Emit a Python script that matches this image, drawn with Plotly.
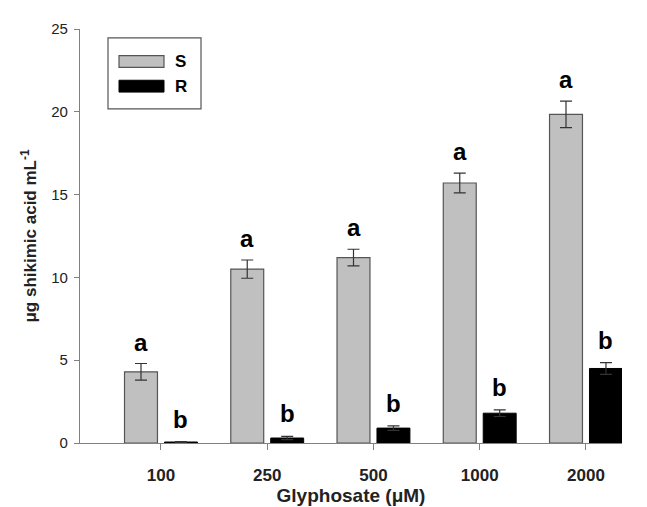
import plotly.graph_objects as go

categories = ["100", "250", "500", "1000", "2000"]
s_values = [4.3, 10.5, 11.2, 15.7, 19.85]
s_errors = [0.5, 0.55, 0.5, 0.6, 0.8]
r_values = [0.06, 0.3, 0.9, 1.8, 4.5]
r_errors = [0.02, 0.1, 0.14, 0.2, 0.35]
s_letters = ["a", "a", "a", "a", "a"]
r_letters = ["b", "b", "b", "b", "b"]
y_ticks = [0, 5, 10, 15, 20, 25]

idx = list(range(len(categories)))
W = 0.31
GAP = 0.066
FONT = "Liberation Sans, Arial, sans-serif"

fig = go.Figure()
fig.add_trace(go.Bar(
    x=idx, y=s_values, width=W, offset=-(W + GAP / 2), name="S",
    marker=dict(color="#c0c0c0", line=dict(color="#555555", width=1.2)),
    error_y=dict(type="data", array=s_errors, visible=True, color="#333333",
                 thickness=1.2, width=6),
))
fig.add_trace(go.Bar(
    x=idx, y=r_values, width=W, offset=GAP / 2, name="R",
    marker=dict(color="#000000", line=dict(color="#000000", width=1)),
    error_y=dict(type="data", array=r_errors, visible=True, color="#333333",
                 thickness=1.2, width=6),
))

ann = []
for i in idx:
    ann.append(dict(x=i - (W + GAP) / 2, y=s_values[i] + s_errors[i],
                    text="<b>%s</b>" % s_letters[i],
                    xref="x", yref="y", showarrow=False, yanchor="bottom", yshift=6,
                    font=dict(family=FONT, size=24, color="#000")))
    ann.append(dict(x=i + (W + GAP) / 2, y=r_values[i] + r_errors[i],
                    text="<b>%s</b>" % r_letters[i],
                    xref="x", yref="y", showarrow=False, yanchor="bottom", yshift=7,
                    font=dict(family=FONT, size=24, color="#000")))

# legend drawn manually (paper coordinates)
def px2paper_x(px):
    return (px - 72) / (614 - 72)

def px2paper_y(py):
    return (440 - py) / (440 - 20)

shapes = [
    dict(type="rect", xref="paper", yref="paper",
         x0=px2paper_x(100), x1=px2paper_x(193), y0=px2paper_y(101), y1=px2paper_y(29),
         line=dict(color="#555555", width=1.2), fillcolor="white"),
    dict(type="rect", xref="paper", yref="paper",
         x0=px2paper_x(111), x1=px2paper_x(156), y0=px2paper_y(59), y1=px2paper_y(47),
         line=dict(color="#555555", width=1.2), fillcolor="#c0c0c0"),
    dict(type="rect", xref="paper", yref="paper",
         x0=px2paper_x(111), x1=px2paper_x(156), y0=px2paper_y(84), y1=px2paper_y(72),
         line=dict(color="#000000", width=1), fillcolor="#000000"),
]
ann.append(dict(x=px2paper_x(165), y=px2paper_y(53), xref="paper", yref="paper",
                text="<b>S</b>", showarrow=False, xanchor="left", yanchor="middle",
                font=dict(family=FONT, size=17, color="#000")))
ann.append(dict(x=px2paper_x(165), y=px2paper_y(78), xref="paper", yref="paper",
                text="<b>R</b>", showarrow=False, xanchor="left", yanchor="middle",
                font=dict(family=FONT, size=17, color="#000")))

fig.update_layout(
    width=647, height=507,
    margin=dict(l=72, r=33, t=20, b=67),
    paper_bgcolor="white", plot_bgcolor="white",
    showlegend=False,
    barmode="overlay",
    font=dict(family=FONT, color="#222222"),
    annotations=ann,
    shapes=shapes,
    xaxis=dict(
        range=[-0.762, 4.339], tickvals=idx,
        ticktext=["<b>%s</b>" % c for c in categories],
        showline=True, linecolor="#808080", linewidth=1.2,
        ticks="outside", ticklen=6, tickcolor="#808080",
        ticklabelstandoff=10,
        showgrid=False, zeroline=False,
        tickfont=dict(size=17, color="#222222"),
        title=dict(text="<b>Glyphosate (μM)</b>", font=dict(size=19, color="#222222"), standoff=5),
    ),
    yaxis=dict(
        range=[0, 25], tickvals=y_ticks,
        showline=True, linecolor="#808080", linewidth=1.2,
        ticks="outside", ticklen=5, tickcolor="#808080",
        ticklabelstandoff=3,
        showgrid=False, zeroline=False,
        tickfont=dict(size=15, color="#222222"),
        title=dict(text="<b>μg shikimic acid mL<sup>-1</sup></b>", font=dict(size=17, color="#222222"), standoff=10),
    ),
)

fig.write_html("out.html")
